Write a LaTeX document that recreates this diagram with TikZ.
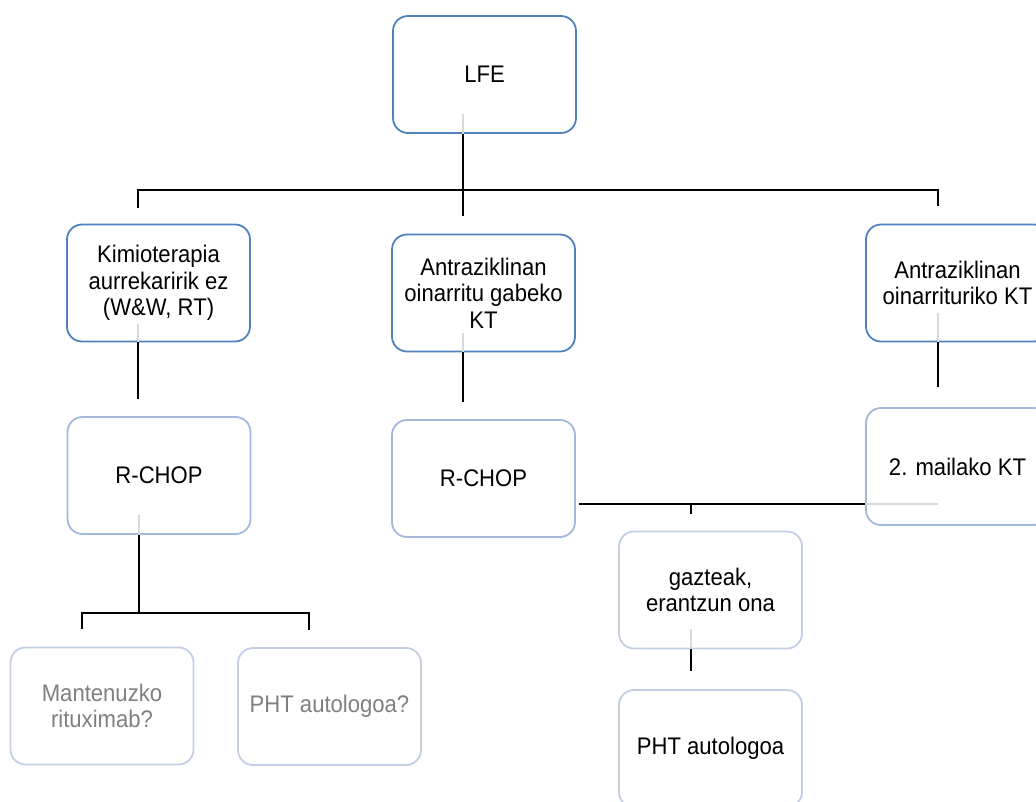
\documentclass[tikz,border=0pt]{standalone}
\usepackage{fontspec}
\setmainfont[FakeStretch=0.92]{Liberation Sans}
\usetikzlibrary{calc}
\definecolor{darkbd}{HTML}{4F81BD}
\definecolor{midbd}{HTML}{A3B8DA}
\definecolor{lightbd}{HTML}{C3CEE4}
\definecolor{faint}{HTML}{DADADA}
\definecolor{greytext}{HTML}{7F7F7F}
\tikzset{
  box/.style={draw, rounded corners=15pt, line width=1.8pt, minimum width=183pt,
    minimum height=117pt, align=center, inner sep=0pt,
    font=\fontsize{24}{26.7}\selectfont},
  topbox/.style={box, draw=darkbd},
  midbox/.style={box, draw=midbd},
  lowbox/.style={box, draw=lightbd},
  greybox/.style={box, draw=lightbd, text=greytext},
  conn/.style={line width=1.8pt, black},
  fconn/.style={line width=1.8pt, faint},
}
\begin{document}
\begin{tikzpicture}[x=1pt,y=-1pt]
\useasboundingbox (0,0) rectangle (1036,801);
% nodes
\node[topbox] (lfe) at (484.5,74.5) {LFE};
\node[topbox] (kim) at (158.5,283) {Kimioterapia\\aurrekaririk ez\\(W\&W, RT)};
\node[topbox] (ant1) at (483.5,293) {Antraziklinan\\oinarritu gabeko\\KT};
\node[topbox] (ant2) at (957.5,283) {Antraziklinan\\oinarrituriko KT};
\node[midbox] (rchop1) at (159,475.5) {R-CHOP};
\node[midbox] (rchop2) at (483.5,478.5) {R-CHOP};
\node[midbox] (mail) at (957.5,466.5) {2. mailako KT};
\node[lowbox] (gaz) at (710.5,590) {gazteak,\\erantzun ona};
\node[lowbox] (pht2) at (710.5,748.5) {PHT autologoa};
\node[greybox] (mant) at (102,706) {Mantenuzko\\rituximab?};
\node[greybox] (pht1) at (329.5,706.5) {PHT autologoa?};
% junction coordinates
\coordinate (lfeB) at ([xshift=-21.5pt]lfe.south);
\coordinate (j1) at ($(lfeB)+(0,56)$);
\coordinate (kimB) at ([xshift=-20.5pt]kim.south);
\coordinate (ant1B) at ([xshift=-20.5pt]ant1.south);
\coordinate (ant2B) at ([xshift=-19.5pt]ant2.south);
\coordinate (r1B) at ([xshift=-20pt]rchop1.south);
\coordinate (j2) at ($(r1B)+(0,78)$);
\coordinate (mantT) at ([xshift=-20pt]mant.north);
\coordinate (pht1T) at ([xshift=-20.5pt]pht1.north);
\coordinate (j2l) at (j2 -| mantT);
\coordinate (j2r) at (j2 -| pht1T);
\coordinate (gazB) at ([xshift=-19.5pt]gaz.south);
% LFE connectors
\draw[fconn] ($(lfeB)+(0,-20)$) -- (lfeB);
\draw[conn] (lfeB) -- (j1);
\draw[conn] (j1 -| kimB) -- (j1 -| ant2B);
\draw[conn] ($(j1 -| kimB)+(0,-0.9)$) -- ++(0,19);
\draw[conn] ($(j1 -| ant2B)+(0,-0.9)$) -- ++(0,17);
\draw[conn] (j1) -- ++(0,26);
% first level to second level
\draw[fconn] ($(kimB)+(0,-18)$) -- (kimB);
\draw[conn] (kimB) -- ++(0,57);
\draw[fconn] ($(ant1B)+(0,-19)$) -- (ant1B);
\draw[conn] (ant1B) -- ++(0,50);
\draw[fconn] ($(ant2B)+(0,-29)$) -- (ant2B);
\draw[conn] (ant2B) -- ++(0,45);
% R-CHOP left
\draw[fconn] ($(r1B)+(0,-20)$) -- (r1B);
\draw[conn] (r1B) -- (j2);
\draw[conn] (j2l) -- (j2r);
\draw[conn] ($(j2l)+(0,-0.9)$) -- ++(0,17);
\draw[conn] ($(j2r)+(0,-0.9)$) -- ++(0,18);
% R-CHOP middle to 2. mailako KT
\coordinate (hy) at (rchop2.east |- 0,504);
\draw[conn] ([xshift=3pt]hy) -- (hy -| mail.west);
\draw[fconn] (hy -| mail.west) -- (hy -| ant2B);
\draw[conn] ($(hy -| gazB)+(0,-0.9)$) -- ++(0,11);
% gazteak to PHT
\draw[fconn] ($(gazB)+(0,-20)$) -- (gazB);
\draw[conn] (gazB) -- ++(0,22);
\end{tikzpicture}
\end{document}
